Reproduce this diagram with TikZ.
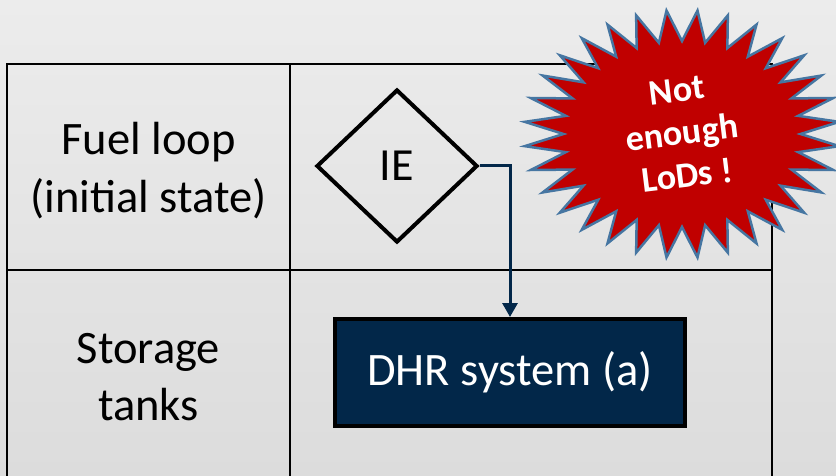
\documentclass[tikz,border=0pt]{standalone}
\usepackage{fontspec}
\setmainfont{Carlito}
\usetikzlibrary{shapes.geometric,arrows.meta}
\definecolor{bgtop}{HTML}{ECECEC}
\definecolor{bgbot}{HTML}{DCDCDC}
\definecolor{navy}{RGB}{2,39,73}
\definecolor{starred}{HTML}{C00000}
\definecolor{starline}{RGB}{70,118,162}
\tikzset{
  gridline/.style={line width=2.2pt, black, line cap=rect},
  celltext/.style={anchor=base, font=\fontsize{46.5}{56}\selectfont, inner sep=0pt},
  iebox/.style={diamond, draw=black, line width=4pt, minimum width=161pt, minimum height=153pt, aspect=1.05, inner sep=0pt, font=\fontsize{46}{56}\selectfont},
  dhrbox/.style={rectangle, draw=black, fill=navy, line width=4pt, minimum width=350pt, minimum height=107pt, inner sep=0pt, text=white, font=\fontsize{46.5}{56}\selectfont},
  flow/.style={draw=navy, line width=3pt, -{Triangle[width=15pt,length=14pt]}},
  burst/.style={fill=starred, draw=starline, line width=2.5pt, line join=miter},
  bursttext/.style={text=white, align=center, font=\bfseries\fontsize{36}{43}\selectfont, inner sep=0pt}
}
\begin{document}
\begin{tikzpicture}[x=1pt,y=-1pt]
\useasboundingbox (0,0) rectangle (836,476);
\shade[top color=bgtop, bottom color=bgbot] (0,0) rectangle (836,476);
% table grid
\draw[gridline] (7,480) -- (7,64) -- (772,64) -- (772,480);
\draw[gridline] (290,64) -- (290,480);
\draw[gridline] (7,270) -- (772,270);
% row labels
\node[celltext] (fuel1) at (148.5,155) {Fuel loop};
\node[celltext] (fuel2) at (148.5,213) {(initial state)};
\node[celltext] (stor1) at (148.5,363) {Storage};
\node[celltext] (stor2) at (148.5,420) {tanks};
% flow
\node[iebox] (ie) at (397,166) {IE};
\node[dhrbox] (dhr) at (510,372.5) {DHR system (a)};
\draw[flow] (ie.east) -| (dhr.north);
% starburst
\begin{scope}[shift={(682,134)}]
\draw[burst] (5.625:158pt and 124pt)
  \foreach \k in {1,...,31} { -- ({11.25*\k}:118.5pt and 93pt) -- ({5.625+11.25*\k}:158pt and 124pt) }
  -- (0:118.5pt and 93pt) -- cycle;
\end{scope}
\node[bursttext, rotate=7] (warn) at (682,133) {Not\\enough\\LoDs !};
\end{tikzpicture}
\end{document}
